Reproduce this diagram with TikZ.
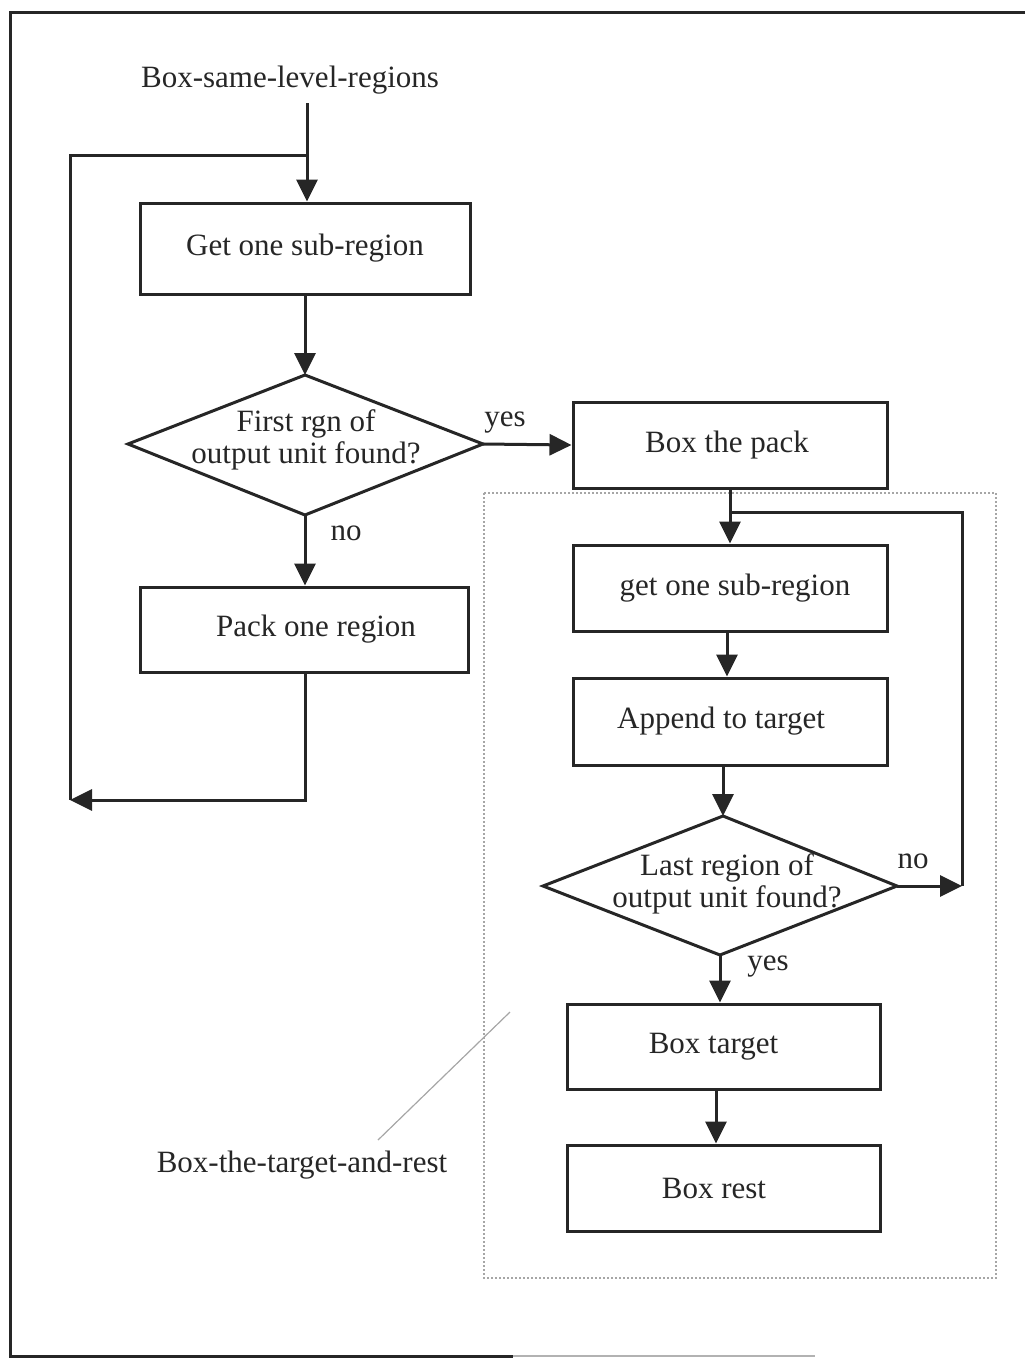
\documentclass[tikz,border=0pt]{standalone}
\usepackage{fontspec}
\setmainfont{Liberation Serif}
\usetikzlibrary{arrows.meta}
\definecolor{ink}{gray}{0.15}
\tikzset{
  x=1pt, y=-1pt,
  txt/.style={font=\fontsize{31}{33}\selectfont, text=ink, inner sep=0pt, align=center},
  procbox/.style={txt, draw=ink, line width=3pt, minimum width=#1, minimum height=86pt},
  wire/.style={draw=ink, line width=3pt},
  arr/.style={wire, -{Triangle[length=22pt,width=21pt]}},
  frame/.style={draw=ink, line width=3pt},
}
\begin{document}
\begin{tikzpicture}
\useasboundingbox (0,0) rectangle (1025,1358);
% outer frame
\draw[frame] (1025,12) -- (10,12) -- (10,1356) -- (513,1356);
\draw[draw=gray!60, line width=2pt] (513,1356) -- (815,1356);
% dotted group box
\draw[draw=gray!70, line width=2pt, dotted] (484,493) rectangle (996,1278);
\draw[draw=gray!70, line width=1.2pt] (378,1140) -- (510,1012);
% titles
\node[txt] (title) at (290,80) {Box-same-level-regions};
\node[txt] (grp) at (302,1165) {Box-the-target-and-rest};
% boxes
\node[procbox=330pt, minimum height=91pt] (b1) at (305,248.5) {Get one sub-region};
\node[procbox=314pt] (b2) at (730,445) {Box the pack\hspace*{6pt}};
\node[procbox=328pt, minimum height=85pt] (b3) at (304,629.5) {\hspace*{24pt}Pack one region};
\node[procbox=314pt] (b4) at (730,588) {\hspace*{10pt}get one sub-region};
\node[procbox=314pt, minimum height=87pt] (b5) at (730,721.5) {Append to target\hspace*{18pt}};
\node[procbox=313pt, minimum height=85pt] (b6) at (723.5,1046.5) {Box target\hspace*{20pt}};
\node[procbox=313pt] (b7) at (723.5,1188) {Box rest\hspace*{19pt}};
% diamond 1
\coordinate (d1n) at (305,375);
\coordinate (d1e) at (483,444);
\coordinate (d1s) at (305,515);
\coordinate (d1w) at (128,444);
\draw[wire, line join=miter] (d1n) -- (d1e) -- (d1s) -- (d1w) -- cycle;
\node[txt, font=\fontsize{31}{32}\selectfont] (d1) at (306,440) {First rgn of\\output unit found?};
% diamond 2
\coordinate (d2n) at (723,816);
\coordinate (d2e) at (897,886);
\coordinate (d2s) at (720,955);
\coordinate (d2w) at (543,886);
\draw[wire, line join=miter] (d2n) -- (d2e) -- (d2s) -- (d2w) -- cycle;
\node[txt, font=\fontsize{31}{32}\selectfont] (d2) at (727,884) {Last region of\\output unit found?};
% connectors
\coordinate (start) at (307,103);
\draw[arr] (start) -- (start |- b1.north);
\coordinate (j1) at (307,155);
\coordinate (lc) at (70,155);
\coordinate (lb) at (70,800);
\coordinate (rb) at (305,800);
\draw[wire] (j1) -- (lc) -- (lb);
\draw[arr] (b3.south -| rb) -- (rb) -- (lb);
\draw[arr] (b1.south) -- (d1n);
\draw[arr] (d1e) -- (b2.west);
\node[txt] (yes1) at (505,423) {yes};
\draw[arr] (d1s) -- (b3.north -| d1s);
\node[txt] (no1) at (346,533) {no};
\draw[arr] (b2.south) -- (b4.north);
\coordinate (j2) at (730,512);
\coordinate (rc) at (962,512);
\coordinate (rc2) at (962,886);
\draw[wire] (j2) -- (rc) -- (rc2);
\draw[arr] (d2e) -- (rc2);
\node[txt] (no2) at (913,861) {no};
\draw[arr] (b4.south -| 727,0) -- (b5.north -| 727,0);
\draw[arr] (b5.south -| d2n) -- (d2n);
\draw[arr] (d2s) -- (b6.north -| d2s);
\node[txt] (yes2) at (768,967) {yes};
\draw[arr] (b6.south -| 716,0) -- (b7.north -| 716,0);
\end{tikzpicture}
\end{document}
